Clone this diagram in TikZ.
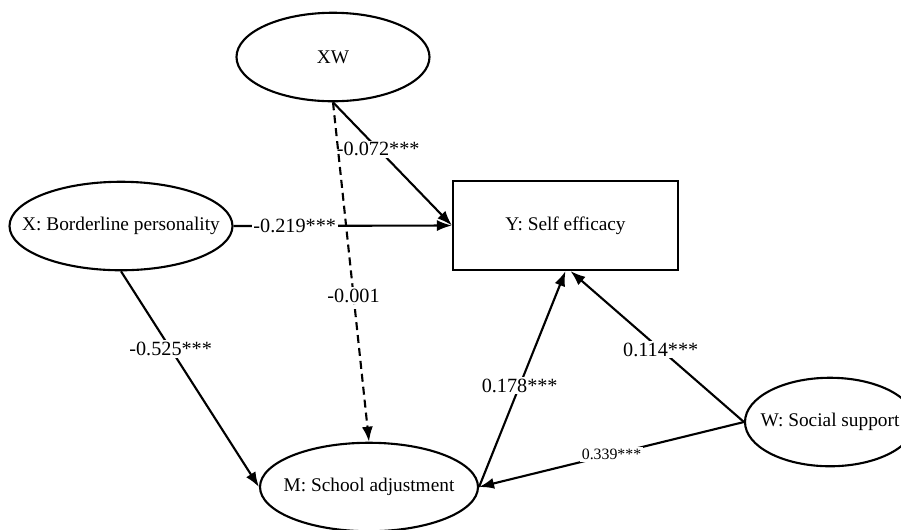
\documentclass[tikz,border=0pt]{standalone}
\usepackage{fontspec}
\setmainfont{Liberation Serif}
\usetikzlibrary{shapes.geometric,arrows.meta}

\begin{document}
\begin{tikzpicture}
		[   enode/.style={draw=black,line width=1.2pt,ellipse,inner xsep=-1.2cm,inner ysep=0pt,minimum width=#1,minimum height=1.77cm,font=\fontsize{11}{13}\selectfont},
		    coef/.style={fill=white,inner sep=1pt,font=\fontsize{11.5}{13}\selectfont},
		]
		\tikzset{normal arrow/.style={draw,line width=1.2pt,-{Latex[length=3mm,width=2.2mm]}}}
		\useasboundingbox (0,0) rectangle (18.02,-10.58);
		
		\node[enode=3.86cm] (xw) at (6.66,-1.14) {XW};
		\node[enode=4.46cm] (x) at (2.42,-4.52) {X: Borderline personality};
		\node[enode=4.36cm] (m) at (7.38,-9.74) {M: School adjustment};
		\node[enode=3.4cm] (w) at (16.6,-8.44) {W: Social support};
		
		\node[draw=black,line width=1.2pt,minimum width=4.5cm,minimum height=1.78cm,font=\fontsize{11}{13}\selectfont] (y) at (11.31,-4.51) {Y: Self efficacy};
		
		
		\path[normal arrow] (xw.south) -- node[coef,pos=0.38] {-0.072***} (y.west);
		\path[normal arrow] (x.east) -- node[coef,pos=0.28] {-0.219***} (y.west);
		\path[normal arrow] (x.south) -- node[coef,pos=0.36] {-0.525***} (m.west);
		\path[normal arrow] (m.east) -- node[coef,pos=0.47] {0.178***} (y.south);
		\path[normal arrow] (w.west) -- node[coef,pos=0.48] {0.114***} ([xshift=1mm]y.south);
		\path[normal arrow] (w.west) -- node[coef,pos=0.5,font=\fontsize{9}{11}\selectfont] {0.339***} (m.east);
		
		\path[normal arrow,dash pattern=on 1.6mm off 1mm] (xw.south) -- node[coef,pos=0.57] {-0.001} (m.north);
		
		\end{tikzpicture}
\end{document}
